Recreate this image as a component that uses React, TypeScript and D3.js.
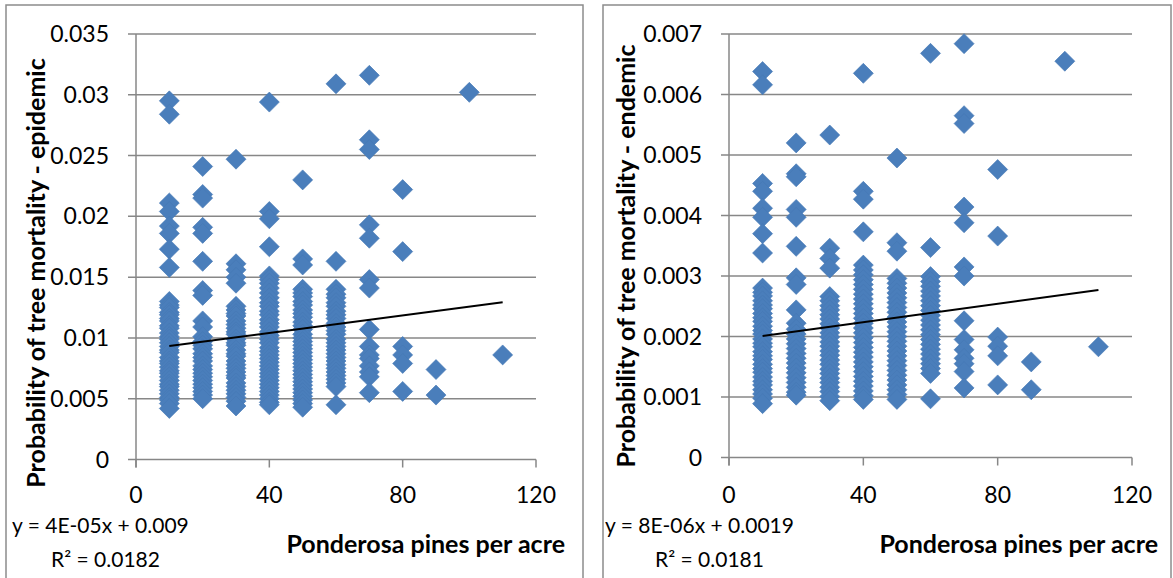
import React, { useRef, useEffect } from 'react';
import * as d3 from 'd3';

// pines per acre columns
const pineCounts = [10, 20, 30, 40, 50, 60, 70, 80, 90, 100, 110];
const xTicks = [0, 40, 80, 120];

// epidemic mortality probabilities, one list per column
const epi10 = [0.0295, 0.0284, 0.0211, 0.0204, 0.0192, 0.0186, 0.0173, 0.0158, 0.0130, 0.0127, 0.0125, 0.0121, 0.0119, 0.0116, 0.0114, 0.0110, 0.0108, 0.0104, 0.0101, 0.0099, 0.0096, 0.0093, 0.0090, 0.0088, 0.0084, 0.0081, 0.0079, 0.0076, 0.0073, 0.0071, 0.0068, 0.0065, 0.0062, 0.0060, 0.0057, 0.0054, 0.0051, 0.0049, 0.0046, 0.0042];
const epi20 = [0.0241, 0.0218, 0.0215, 0.0191, 0.0186, 0.0163, 0.0139, 0.0135, 0.0114, 0.0109, 0.0101, 0.0097, 0.0094, 0.0091, 0.0087, 0.0084, 0.0081, 0.0077, 0.0074, 0.0071, 0.0068, 0.0065, 0.0062, 0.0059, 0.0056, 0.0053, 0.0050];
const epi30 = [0.0247, 0.0161, 0.0156, 0.0150, 0.0145, 0.0126, 0.0123, 0.0120, 0.0118, 0.0114, 0.0111, 0.0108, 0.0105, 0.0103, 0.0099, 0.0096, 0.0094, 0.0090, 0.0087, 0.0085, 0.0081, 0.0078, 0.0075, 0.0072, 0.0069, 0.0067, 0.0063, 0.0060, 0.0057, 0.0054, 0.0051, 0.0048, 0.0044];
const epi40 = [0.0294, 0.0204, 0.0198, 0.0175, 0.0151, 0.0148, 0.0145, 0.0141, 0.0137, 0.0133, 0.0129, 0.0126, 0.0122, 0.0119, 0.0115, 0.0112, 0.0109, 0.0105, 0.0102, 0.0099, 0.0096, 0.0092, 0.0089, 0.0086, 0.0083, 0.0080, 0.0077, 0.0074, 0.0071, 0.0068, 0.0065, 0.0062, 0.0059, 0.0056, 0.0053, 0.0050, 0.0047, 0.0045];
const epi50 = [0.0230, 0.0165, 0.0160, 0.0140, 0.0137, 0.0134, 0.0130, 0.0127, 0.0123, 0.0120, 0.0117, 0.0113, 0.0110, 0.0107, 0.0103, 0.0100, 0.0097, 0.0094, 0.0091, 0.0088, 0.0085, 0.0082, 0.0079, 0.0076, 0.0073, 0.0070, 0.0067, 0.0064, 0.0061, 0.0058, 0.0055, 0.0052, 0.0049, 0.0046, 0.0043];
const epi60 = [0.0309, 0.0163, 0.0140, 0.0136, 0.0133, 0.0129, 0.0126, 0.0122, 0.0119, 0.0116, 0.0112, 0.0109, 0.0106, 0.0103, 0.0099, 0.0096, 0.0093, 0.0090, 0.0087, 0.0084, 0.0081, 0.0078, 0.0075, 0.0072, 0.0069, 0.0066, 0.0063, 0.0060, 0.0045];
const epi70 = [0.0316, 0.0263, 0.0255, 0.0193, 0.0182, 0.0148, 0.0141, 0.0107, 0.0093, 0.0086, 0.0083, 0.0077, 0.0072, 0.0068, 0.0055];
const epi80 = [0.0222, 0.0171, 0.0093, 0.0086, 0.0079, 0.0056];
const epi90 = [0.0074, 0.0053];
const epi100 = [0.0302];
const epi110 = [0.0086];

// endemic mortality probabilities
const end10 = [0.00638, 0.00616, 0.00453, 0.00440, 0.00412, 0.00397, 0.00370, 0.00338, 0.00280, 0.00273, 0.00267, 0.00259, 0.00252, 0.00246, 0.00238, 0.00231, 0.00225, 0.00217, 0.00210, 0.00204, 0.00196, 0.00189, 0.00183, 0.00175, 0.00168, 0.00162, 0.00154, 0.00147, 0.00141, 0.00133, 0.00126, 0.00120, 0.00112, 0.00105, 0.00098, 0.00089];
const end20 = [0.00520, 0.00469, 0.00464, 0.00410, 0.00397, 0.00349, 0.00297, 0.00286, 0.00244, 0.00222, 0.00212, 0.00204, 0.00196, 0.00188, 0.00180, 0.00172, 0.00164, 0.00156, 0.00148, 0.00140, 0.00132, 0.00124, 0.00116, 0.00108, 0.00103];
const end30 = [0.00533, 0.00346, 0.00329, 0.00313, 0.00266, 0.00259, 0.00251, 0.00244, 0.00236, 0.00229, 0.00221, 0.00214, 0.00206, 0.00199, 0.00191, 0.00184, 0.00176, 0.00169, 0.00161, 0.00154, 0.00146, 0.00139, 0.00131, 0.00124, 0.00116, 0.00109, 0.00101, 0.00094];
const end40 = [0.00635, 0.00440, 0.00427, 0.00373, 0.00318, 0.00310, 0.00302, 0.00294, 0.00286, 0.00278, 0.00270, 0.00262, 0.00254, 0.00246, 0.00238, 0.00230, 0.00222, 0.00214, 0.00206, 0.00198, 0.00190, 0.00182, 0.00174, 0.00166, 0.00158, 0.00150, 0.00142, 0.00134, 0.00126, 0.00118, 0.00110, 0.00102, 0.00096];
const end50 = [0.00495, 0.00355, 0.00341, 0.00296, 0.00288, 0.00280, 0.00272, 0.00264, 0.00256, 0.00248, 0.00240, 0.00232, 0.00224, 0.00216, 0.00208, 0.00200, 0.00192, 0.00184, 0.00176, 0.00168, 0.00160, 0.00152, 0.00144, 0.00136, 0.00128, 0.00120, 0.00112, 0.00104, 0.00096];
const end60 = [0.00668, 0.00347, 0.00299, 0.00291, 0.00283, 0.00275, 0.00267, 0.00259, 0.00251, 0.00243, 0.00235, 0.00227, 0.00219, 0.00211, 0.00203, 0.00195, 0.00187, 0.00179, 0.00171, 0.00163, 0.00155, 0.00147, 0.00139, 0.00097];
const end70 = [0.00684, 0.00565, 0.00552, 0.00414, 0.00388, 0.00315, 0.00300, 0.00226, 0.00195, 0.00178, 0.00164, 0.00155, 0.00142, 0.00115];
const end80 = [0.00476, 0.00366, 0.00199, 0.00184, 0.00168, 0.00120];
const end90 = [0.00158, 0.00112];
const end100 = [0.00655];
const end110 = [0.00183];

const epidemicCols = [epi10, epi20, epi30, epi40, epi50, epi60, epi70, epi80, epi90, epi100, epi110];
const endemicCols = [end10, end20, end30, end40, end50, end60, end70, end80, end90, end100, end110];

// linear trendline ends (x = 10 and x = 110)
const trendX = [10, 110];
const epidemicTrend = [0.00933, 0.01293];
const endemicTrend = [0.00201, 0.00277];

const epidemicTicks = [0, 0.005, 0.01, 0.015, 0.02, 0.025, 0.03, 0.035];
const endemicTicks = [0, 0.001, 0.002, 0.003, 0.004, 0.005, 0.006, 0.007];

const FONT = 'Lato, "Open Sans", sans-serif';
const GRID = '#878787';
const BLUE = '#4a7ebb';

const panels = [
  {
    box: [6, 5, 577, 620],
    x: [136, 536], y: [459.5, 34],
    cols: epidemicCols, ticks: epidemicTicks, yMax: 0.035,
    trend: epidemicTrend,
    yTitle: 'Probability of tree mortality - epidemic', yTitlePos: [45, 273],
    eq: 'y = 4E-05x + 0.009', r2: 'R² = 0.0182', eqX: 12, r2X: 51, xTitleEnd: 565,
  },
  {
    box: [603, 5, 568, 620],
    x: [729, 1132], y: [457.5, 34],
    cols: endemicCols, ticks: endemicTicks, yMax: 0.007,
    trend: endemicTrend,
    yTitle: 'Probability of tree mortality - endemic', yTitlePos: [635, 256],
    eq: 'y = 8E-06x + 0.0019', r2: 'R² = 0.0181', eqX: 605, r2X: 655, xTitleEnd: 1158,
  },
];

const App = () => {
  const svgRef = useRef(null);

  useEffect(() => {
    const svg = d3.select(svgRef.current);
    svg.selectAll('*').remove();

    svg.append('rect').attr('width', 1173).attr('height', 578).attr('fill', '#fff');

    const diamond = d3.symbol(d3.symbolSquare, 200)();

    panels.forEach((p) => {
      const g = svg.append('g');
      g.append('rect')
        .attr('x', p.box[0]).attr('y', p.box[1])
        .attr('width', p.box[2]).attr('height', p.box[3])
        .attr('fill', 'none').attr('stroke', '#8c8c8c').attr('stroke-width', 1.5);

      const xScale = d3.scaleLinear().domain([0, 120]).range(p.x);
      const yScale = d3.scaleLinear().domain([0, p.yMax]).range(p.y);

      // horizontal gridlines (with the outward tick)
      g.selectAll('.grid')
        .data(p.ticks)
        .enter()
        .append('line')
        .attr('x1', p.x[0] - 8).attr('x2', p.x[1])
        .attr('y1', (d) => yScale(d)).attr('y2', (d) => yScale(d))
        .attr('stroke', GRID).attr('stroke-width', 1.5);

      // y axis line
      g.append('line')
        .attr('x1', p.x[0]).attr('x2', p.x[0])
        .attr('y1', p.y[1]).attr('y2', p.y[0] + 8)
        .attr('stroke', GRID).attr('stroke-width', 1.5);

      // x ticks
      g.selectAll('.xtick')
        .data(xTicks)
        .enter()
        .append('line')
        .attr('x1', (d) => xScale(d)).attr('x2', (d) => xScale(d))
        .attr('y1', p.y[0]).attr('y2', p.y[0] + 8)
        .attr('stroke', GRID).attr('stroke-width', 1.5);

      g.selectAll('.ylab')
        .data(p.ticks)
        .enter()
        .append('text')
        .attr('x', p.x[0] - 27)
        .attr('y', (d) => yScale(d) + 8)
        .attr('text-anchor', 'end')
        .attr('font-family', FONT).attr('font-size', 23)
        .text((d) => String(d));

      g.selectAll('.xlab')
        .data(xTicks)
        .enter()
        .append('text')
        .attr('x', (d) => xScale(d))
        .attr('y', 503)
        .attr('text-anchor', 'middle')
        .attr('font-family', FONT).attr('font-size', 23)
        .text((d) => d);

      // markers
      const points = p.cols.flatMap((vals, i) => vals.map((v) => [pineCounts[i], v]));
      g.selectAll('.pt')
        .data(points)
        .enter()
        .append('path')
        .attr('d', diamond)
        .attr('transform', (d) => `translate(${xScale(d[0])},${yScale(d[1])}) rotate(45)`)
        .attr('fill', BLUE)
        .attr('stroke', '#4678b5')
        .attr('stroke-width', 0.6);

      // trendline
      const line = d3.line().x((d) => xScale(d[0])).y((d) => yScale(d[1]));
      g.append('path')
        .attr('d', line(trendX.map((x, i) => [x, p.trend[i]])))
        .attr('fill', 'none').attr('stroke', '#000').attr('stroke-width', 2);

      // axis titles
      g.append('text')
        .attr('transform', `translate(${p.yTitlePos[0]},${p.yTitlePos[1]}) rotate(-90)`)
        .attr('text-anchor', 'middle')
        .attr('font-family', FONT).attr('font-size', 25).attr('font-weight', 'bold')
        .text(p.yTitle);

      g.append('text')
        .attr('x', p.xTitleEnd).attr('y', 553)
        .attr('text-anchor', 'end')
        .attr('font-family', FONT).attr('font-size', 25).attr('font-weight', 'bold')
        .text('Ponderosa pines per acre');

      g.append('text')
        .attr('x', p.eqX).attr('y', 533)
        .attr('font-family', FONT).attr('font-size', 21)
        .text(p.eq);

      g.append('text')
        .attr('x', p.r2X).attr('y', 567)
        .attr('font-family', FONT).attr('font-size', 21)
        .text(p.r2);
    });
  }, []);

  return (
    <svg
      ref={svgRef}
      width={1173}
      height={578}
      style={{ position: 'absolute', left: 0, top: 0 }}
    />
  );
};

export default App;
